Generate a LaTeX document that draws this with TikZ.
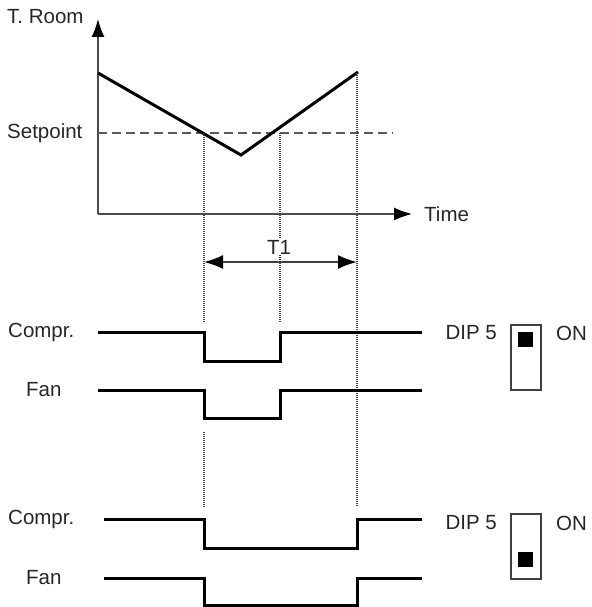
\documentclass[tikz,border=0pt]{standalone}
\usepackage{fontspec}
\setmainfont{Liberation Sans}
\usetikzlibrary{arrows.meta}
\begin{document}
\begin{tikzpicture}[x=1pt,y=-1pt,
  lbl/.style={inner sep=0pt,font=\fontsize{20.5}{24}\selectfont,text=black!85},
  axisline/.style={line width=1.5pt,draw=black!70},
  tip/.style={-{Latex[length=18pt,width=13pt,color=black]}},
  curve/.style={line width=3pt,line join=miter},
  sig/.style={line width=3pt,line join=miter},
  setline/.style={line width=1.5pt,draw=black!65,dash pattern=on 9pt off 5pt},
  dotline/.style={line width=1.2pt,draw=black!75,dash pattern=on 1pt off 1pt},
  dipbox/.style={line width=1.2pt,draw=black!75},
  dipknob/.style={fill=black}]
\useasboundingbox (0,0) rectangle (591,607);
% axes
\coordinate (O) at (98,214);
\coordinate (ytip) at (98,19);
\coordinate (xtip) at (412,214);
\draw[axisline,tip] (O) -- (ytip);
\draw[axisline,tip] (O) -- (xtip);
\node[lbl,anchor=west] (troom) at (7,17) {T. Room};
\node[lbl,anchor=west] (setp) at (7,133) {Setpoint};
\node[lbl,anchor=west] (time) at (424,214) {Time};
% setpoint line
\coordinate (s0) at (98,133);
\coordinate (s1) at (393,133);
\draw[setline] (s0) -- (s1);
% temperature curve
\coordinate (c0) at (98,73);
\coordinate (cmin) at (241,155);
\coordinate (c1) at (358,72);
\draw[curve] (c0) -- (cmin) -- (c1);
% dotted guides
\coordinate (d1a) at (204,133); \coordinate (d1b) at (204,323);
\coordinate (d2a) at (280,133); \coordinate (d2b) at (280,323);
\coordinate (d3a) at (357,73);  \coordinate (d3b) at (357,506);
\coordinate (d4a) at (204,432); \coordinate (d4b) at (204,507);
\draw[dotline] (d1a) -- (d1b);
\draw[dotline] (d2a) -- (d2b);
\draw[dotline] (d3a) -- (d3b);
\draw[dotline] (d4a) -- (d4b);
% T1
\coordinate (t1a) at (204,262);
\coordinate (t1b) at (357,262);
\draw[line width=1.8pt,draw=black!75,{Latex[length=19pt,width=14pt,color=black]}-{Latex[length=19pt,width=14pt,color=black]}] (t1a) -- (t1b);
\node[lbl,fill=white,inner xsep=2pt,inner ysep=1pt] (t1) at (279,247) {T1};
% top signals
\node[lbl,anchor=west] (comp1) at (8,332) {Compr.};
\node[lbl,anchor=west] (fan1) at (26,390) {Fan};
\draw[sig] (98,332) -- (204,332) -- (204,361) -- (280,361) -- (280,332) -- (422,332);
\draw[sig] (98,390) -- (204,390) -- (204,418) -- (280,418) -- (280,390) -- (422,390);
% bottom signals
\node[lbl,anchor=west] (comp2) at (8,519) {Compr.};
\node[lbl,anchor=west] (fan2) at (26,578) {Fan};
\draw[sig] (104,519) -- (204,519) -- (204,548) -- (357,548) -- (357,519) -- (422,519);
\draw[sig] (104,578) -- (204,578) -- (204,605) -- (357,605) -- (357,578) -- (422,578);
% DIP switches
\node[lbl,anchor=east] (dip1) at (497,333) {DIP 5};
\node[lbl,anchor=west] (on1) at (556,333) {ON};
\draw[dipbox] (511,325) rectangle (541,390);
\fill[dipknob] (518,332) rectangle (533,347);
\node[lbl,anchor=east] (dip2) at (497,523) {DIP 5};
\node[lbl,anchor=west] (on2) at (556,523) {ON};
\draw[dipbox] (511,514) rectangle (541,579);
\fill[dipknob] (518,552) rectangle (533,567);
\end{tikzpicture}
\end{document}
